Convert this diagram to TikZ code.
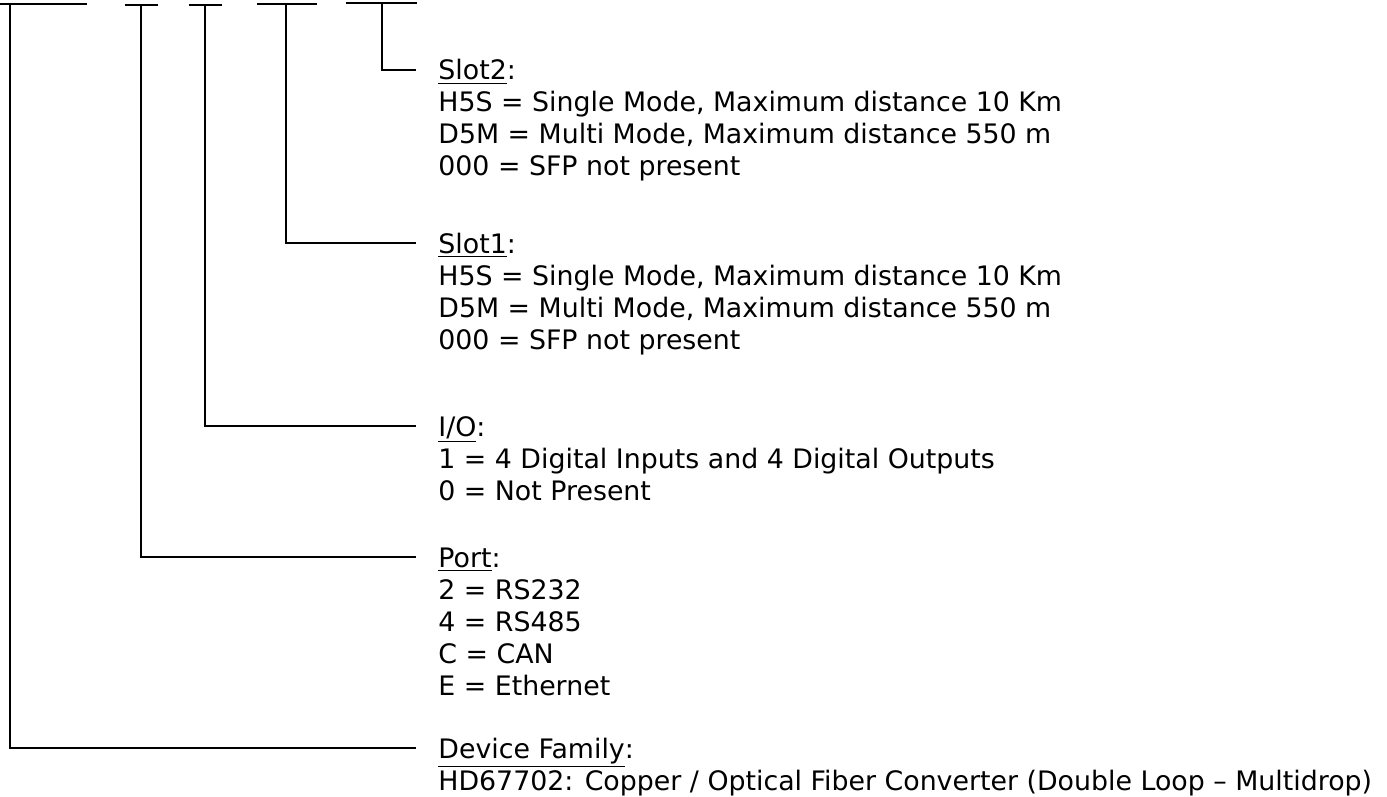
\documentclass[tikz,border=0pt]{standalone}
\usepackage{fontspec}
\setmainfont{DejaVu Sans}
\usetikzlibrary{positioning}

\begin{document}
\begin{tikzpicture}[
  x=0.5pt, y=-0.5pt,
  every node/.style={font=\fontsize{13.4}{16}\selectfont},
]

\tikzset{
  codebar/.style={line width=1.1pt, black},
  leadline/.style={line width=1pt, black},
  fieldhead/.style={anchor=base west, inner xsep=11pt, inner ysep=0pt,
    text height=10pt, text depth=0pt},
  fieldline/.style={anchor=base west, inner xsep=11pt, inner ysep=0pt},
}

\useasboundingbox (0,0) rectangle (1387,797);

% ---------------------------------------------------------------
% Code bars on top (one per field)
% ---------------------------------------------------------------
\foreach \l/\r/\v/\h/\n in {0/87/10/4/family, 125/158/141/5/port, 189/222/205/5/io,
                            257/317/286/4/slotone, 346/417/382/3/slottwo}{
  \draw[codebar] (\l,\h) -- (\r,\h);
  \coordinate (\n-top) at (\v,\h);
}

% ---------------------------------------------------------------
% Field descriptions
% ---------------------------------------------------------------
\node[fieldhead] (slottwohead) at (416,80) {\underline{Slot2}:};
\foreach \t [count=\i] in {{H5S = Single Mode, Maximum distance 10 Km},
                           {D5M = Multi Mode, Maximum distance 550 m},
                           {000 = SFP not present}}
  \node[fieldline] (slottwo-\i) at ([yshift=-\i*16pt]slottwohead.base west) {\t};

\node[fieldhead] (slotonehead) at (416,253) {\underline{Slot1}:};
\foreach \t [count=\i] in {{H5S = Single Mode, Maximum distance 10 Km},
                           {D5M = Multi Mode, Maximum distance 550 m},
                           {000 = SFP not present}}
  \node[fieldline] (slotone-\i) at ([yshift=-\i*16pt]slotonehead.base west) {\t};

\node[fieldhead] (iohead) at (416,436) {\underline{I/O}:};
\foreach \t [count=\i] in {1 = 4 Digital Inputs and 4 Digital Outputs,
                           0 = Not Present}
  \node[fieldline] (io-\i) at ([yshift=-\i*16pt]iohead.base west) {\t};

\node[fieldhead] (porthead) at (416,567) {\underline{Port}:};
\foreach \t [count=\i] in {2 = RS232, 4 = RS485, C = CAN, E = Ethernet}
  \node[fieldline] (port-\i) at ([yshift=-\i*16pt]porthead.base west) {\t};

\node[fieldhead] (familyhead) at (416,758) {\underline{Device Family}:};
\node[fieldline] (family-1) at ([yshift=-16pt]familyhead.base west)
  {HD67702: Copper / Optical Fiber Converter (Double Loop -- Multidrop)};

% Leads from the bars down to each field
\draw[leadline] (slottwo-top) |- (slottwohead.west);
\draw[leadline] (slotone-top) |- (slotonehead.west);
\draw[leadline] (io-top) |- (iohead.west);
\draw[leadline] (port-top) |- (porthead.west);
\draw[leadline] (family-top) |- (familyhead.west);

\end{tikzpicture}
\end{document}
